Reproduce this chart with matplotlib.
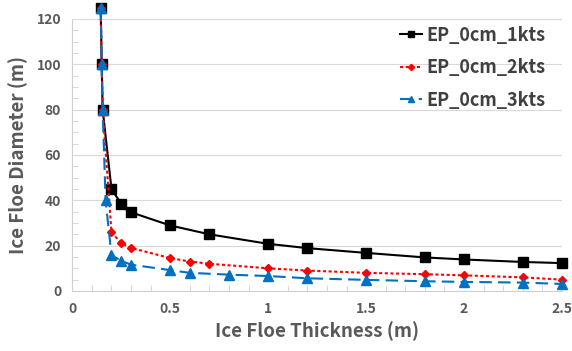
import matplotlib
matplotlib.use("Agg")
import matplotlib.pyplot as plt
from matplotlib.ticker import MultipleLocator

# thickness (m) vs floe diameter (m)
x_1kts = [0.145, 0.15, 0.155, 0.2, 0.25, 0.3, 0.5, 0.7, 1.0, 1.2, 1.5, 1.8, 2.0, 2.3, 2.5]
d_1kts = [125, 100, 80, 45, 38.4, 34.7, 28.9, 25, 20.8, 18.9, 16.8, 14.8, 13.9, 12.8, 12.3]

x_2kts = [0.145, 0.15, 0.155, 0.2, 0.25, 0.3, 0.5, 0.6, 0.7, 1.0, 1.2, 1.5, 1.8, 2.0, 2.3, 2.5]
d_2kts = [125, 100, 80, 26, 21, 19, 14.5, 13, 12, 10, 9, 8, 7.4, 6.9, 6, 5]

x_3kts = [0.145, 0.15, 0.155, 0.17, 0.2, 0.25, 0.3, 0.5, 0.6, 0.8, 1.0, 1.2, 1.5, 1.8, 2.0, 2.3, 2.5]
d_3kts = [125, 100, 80, 40, 15.8, 13.3, 11.6, 9.2, 8, 7.2, 6.6, 5.6, 4.9, 4.3, 4, 3.7, 3.1]

labels = ["EP_0cm_1kts", "EP_0cm_2kts", "EP_0cm_3kts"]

plt.rcParams["font.family"] = ["Noto Sans CJK KR", "DejaVu Sans"]

fig = plt.figure(figsize=(5.72, 3.51), dpi=100)
ax = fig.add_axes([0.1264, 0.171, 0.8561, 0.775])

ax.plot(x_1kts, d_1kts, color="black", lw=1.5, ls="-", marker="s", ms=6.5,
        label=labels[0], clip_on=False, zorder=3)
ax.plot(x_2kts, d_2kts, color="#ff0000", lw=1.5, ls=(0, (1.5, 1.2)), marker="D", ms=4.5,
        label=labels[1], clip_on=False, zorder=4)
ax.plot(x_3kts, d_3kts, color="#0070c0", lw=1.5, ls=(0, (6, 3)), marker="^", ms=6.5,
        label=labels[2], clip_on=False, zorder=5)

ax.set_xlim(0, 2.5)
ax.set_ylim(0, 120)
ax.xaxis.set_major_locator(MultipleLocator(0.5))
ax.xaxis.set_minor_locator(MultipleLocator(0.1))
ax.yaxis.set_major_locator(MultipleLocator(20))
ax.yaxis.set_minor_locator(MultipleLocator(5))
ax.set_xticks([0, 0.5, 1, 1.5, 2, 2.5])
ax.set_xticklabels(["0", "0.5", "1", "1.5", "2", "2.5"])

ax.grid(True, which="major", axis="y", color="#d9d9d9", lw=0.8)
ax.set_axisbelow(True)
for s in ["top", "right"]:
    ax.spines[s].set_visible(False)
for s in ["left", "bottom"]:
    ax.spines[s].set_color("#d0d0d0")

ax.tick_params(which="major", length=0, labelsize=10, labelcolor="#595959", pad=8)
ax.tick_params(which="minor", direction="in", length=4, color="#d0d0d0")
for t in ax.get_xticklabels() + ax.get_yticklabels():
    t.set_fontweight("bold")

ax.set_xlabel("Ice Floe Thickness (m)", fontsize=13.5, fontweight="bold", color="#595959", labelpad=4)
ax.set_ylabel("Ice Floe Diameter (m)", fontsize=13.5, fontweight="bold", color="#595959", labelpad=6)

leg = ax.legend(loc="upper right", bbox_to_anchor=(1.0, 1.035), frameon=False,
                fontsize=13, handlelength=1.2, handletextpad=0.25, labelspacing=0.75,
                markerscale=0.7)
for t in leg.get_texts():
    t.set_color("#404040")
    t.set_fontweight("bold")

fig.savefig("out.png", dpi=100)
